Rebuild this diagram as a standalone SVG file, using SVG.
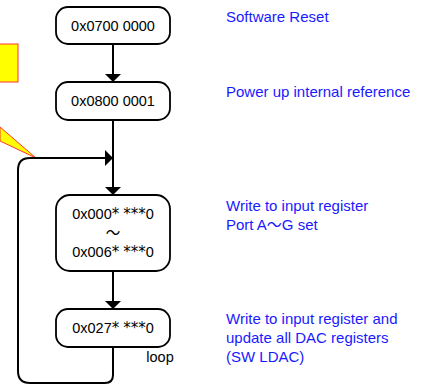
<svg xmlns="http://www.w3.org/2000/svg" width="426" height="385" viewBox="0 0 426 385">
<style>
.box{fill:#fff;stroke:#000;stroke-width:1.8}
.t{font-family:"Liberation Sans","Noto Sans CJK JP",sans-serif;font-size:14.5px;fill:#000;text-anchor:middle}
.s{font-family:"DejaVu Sans",sans-serif;font-size:15px}
.d{font-family:"Liberation Sans","Noto Sans CJK JP",sans-serif;font-size:15px;fill:#1a1aff}
.c{fill:none;stroke:#000;stroke-width:2}
</style>
<g id="callout">
<rect x="-2" y="44" width="20" height="38" fill="#ffff00" stroke="#ff3333" stroke-width="1"/>
<path d="M0,127 L36,158 L0,141 Z" fill="#ffff00" stroke="#ff3333" stroke-width="1"/>
</g>
<g id="connectors">
<path class="c" d="M113,44 L113,74"/>
<path d="M105,74 L121,74 L113,82 Z"/>
<path class="c" d="M113,120 L113,187"/>
<path d="M105,187 L121,187 L113,195 Z"/>
<path class="c" d="M113,271 L113,301"/>
<path d="M105,301 L121,301 L113,309 Z"/>
<path class="c" d="M113,347 L113,375 Q113,383 105,383 L30,383 Q18,383 18,371 L18,170 Q18,158 30,158 L105,158"/>
<path d="M105,150 L113,158 L105,166 Z"/>
</g>
<g id="n1">
<rect class="box" x="56" y="7" width="114" height="37" rx="12"/>
<text class="t" x="113" y="31">0x0700 0000</text>
</g>
<g id="n2">
<rect class="box" x="56" y="82" width="114" height="38" rx="12"/>
<text class="t" x="113" y="106">0x0800 0001</text>
</g>
<g id="n3">
<rect class="box" x="56" y="195" width="114" height="76" rx="14"/>
<text class="t" x="113" y="219">0x000<tspan class="s">*</tspan> <tspan class="s">***</tspan>0</text>
<text class="t" x="113" y="238">～</text>
<text class="t" x="113" y="257">0x006<tspan class="s">*</tspan> <tspan class="s">***</tspan>0</text>
</g>
<g id="n4">
<rect class="box" x="56" y="309" width="114" height="38" rx="12"/>
<text class="t" x="113" y="333">0x027<tspan class="s">*</tspan> <tspan class="s">***</tspan>0</text>
</g>
<text class="t" x="160" y="362">loop</text>
<g id="labels">
<text class="d" x="226" y="22">Software Reset</text>
<text class="d" x="226" y="97">Power up internal reference</text>
<text class="d" x="226" y="211">Write to input register</text>
<text class="d" x="226" y="230">Port A～G set</text>
<text class="d" x="226" y="324">Write to input register and</text>
<text class="d" x="226" y="343">update all DAC registers</text>
<text class="d" x="226" y="362">(SW LDAC)</text>
</g>
</svg>
